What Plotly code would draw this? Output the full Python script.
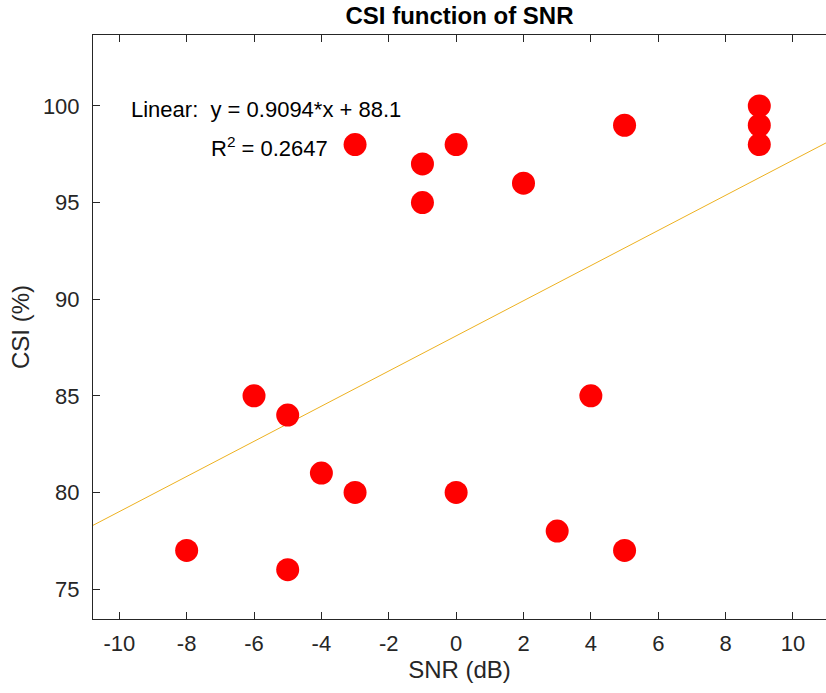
import numpy as np
import plotly.graph_objects as go

snr = [-8, -6, -5, -5, -4, -3, -3, -1, -1, 0, 0, 2, 3, 4, 5, 5, 9, 9, 9]
csi = [77, 85, 84, 76, 81, 80, 98, 97, 95, 98, 80, 96, 78, 85, 99, 77, 100, 99, 98]
x_ticks = [-10, -8, -6, -4, -2, 0, 2, 4, 6, 8, 10]
x_tick_text = ["-10", "-8", "-6", "-4", "-2", "0", "2", "4", "6", "8", "10"]
y_ticks = [75, 80, 85, 90, 95, 100]
y_tick_text = ["75", "80", "85", "90", "95", "100"]

x_range = [-10.78, 10.98]
y_range = [73.45, 103.67]

slope, intercept = np.polyfit(snr, csi, 1)
pred = np.polyval([slope, intercept], snr)
r2 = 1 - np.sum((np.array(csi) - pred) ** 2) / np.sum((np.array(csi) - np.mean(csi)) ** 2)

fit_x = np.array(x_range)
fit_y = slope * fit_x + intercept

fig = go.Figure()
fig.add_trace(go.Scatter(x=fit_x, y=fit_y, mode="lines",
                         line=dict(color="#EDB120", width=1), hoverinfo="skip"))
fig.add_trace(go.Scatter(x=snr, y=csi, mode="markers",
                         marker=dict(color="#FF0000", size=23, line=dict(width=0))))

font_fam = "Liberation Sans, Arial, sans-serif"
fig.add_annotation(x=-9.72, y=99.8, xref="x", yref="y", xanchor="left", yanchor="middle",
                   text=f"Linear:  y = {slope:.4f}*x + {intercept:.1f}", showarrow=False,
                   font=dict(family=font_fam, size=22, color="#000000"))
fig.add_annotation(x=-7.35, y=97.9, xref="x", yref="y", xanchor="left", yanchor="middle",
                   text=f"R<sup>2</sup> = {r2:.4f}", showarrow=False,
                   font=dict(family=font_fam, size=22, color="#000000"))

fig.update_layout(
    width=826, height=693,
    margin=dict(l=93, r=0, t=35, b=74),
    paper_bgcolor="white", plot_bgcolor="white",
    showlegend=False,
    font=dict(family=font_fam, size=22, color="#262626"),
    title=dict(text="<b>CSI function of SNR</b>", x=0.5, xref="paper", xanchor="center",
               y=0.977, yanchor="middle", font=dict(size=24, color="#000000")),
    xaxis=dict(range=x_range, tickvals=x_ticks, ticktext=x_tick_text,
               ticks="inside", ticklen=7, tickcolor="#262626",
               showline=True, linecolor="#262626", linewidth=1,
               mirror="ticks", showgrid=False, zeroline=False,
               ticklabelstandoff=5, tickfont=dict(size=22),
               title=dict(text="SNR (dB)", standoff=5, font=dict(size=24))),
    yaxis=dict(range=y_range, tickvals=y_ticks, ticktext=y_tick_text,
               ticks="inside", ticklen=7, tickcolor="#262626",
               showline=True, linecolor="#262626", linewidth=1,
               showgrid=False, zeroline=False,
               ticklabelstandoff=8, tickfont=dict(size=22),
               title=dict(text="CSI (%)", standoff=6, font=dict(size=24))),
)

fig.write_html("out.html")
